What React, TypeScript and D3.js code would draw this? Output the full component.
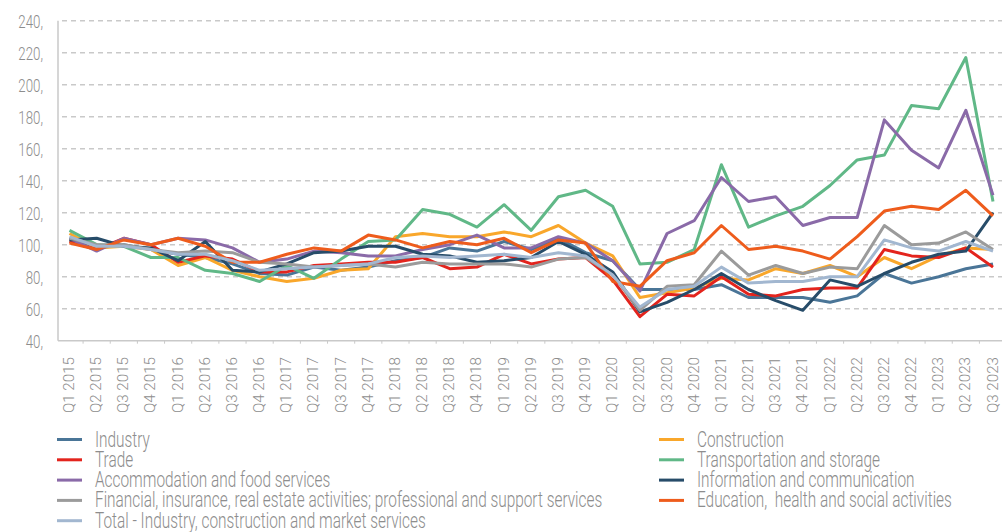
import React from 'react'
import * as d3 from 'd3'

const quarters = [
  'Q1 2015', 'Q2 2015', 'Q3 2015', 'Q4 2015',
  'Q1 2016', 'Q2 2016', 'Q3 2016', 'Q4 2016',
  'Q1 2017', 'Q2 2017', 'Q3 2017', 'Q4 2017',
  'Q1 2018', 'Q2 2018', 'Q3 2018', 'Q4 2018',
  'Q1 2019', 'Q2 2019', 'Q3 2019', 'Q4 2019',
  'Q1 2020', 'Q2 2020', 'Q3 2020', 'Q4 2020',
  'Q1 2021', 'Q2 2021', 'Q3 2021', 'Q4 2021',
  'Q1 2022', 'Q2 2022', 'Q3 2022', 'Q4 2022',
  'Q1 2023', 'Q2 2023', 'Q3 2023',
]

const yTicks = [40, 60, 80, 100, 120, 140, 160, 180, 200, 220, 240]

const industry = [103, 98, 100, 97, 94, 92, 88, 82, 81, 86, 84, 86, 90, 92, 98, 96, 102, 97, 104, 95, 90, 72, 72, 72, 75, 67, 67, 67, 64, 68, 82, 76, 80, 85, 88]
const construction = [107, 98, 99, 97, 87, 92, 84, 80, 77, 79, 84, 85, 105, 107, 105, 105, 108, 105, 112, 101, 93, 67, 70, 73, 79, 78, 85, 82, 87, 80, 92, 85, 93, 98, 97]
const trade = [102, 97, 104, 100, 89, 93, 91, 83, 83, 87, 88, 89, 89, 92, 85, 86, 94, 88, 91, 92, 78, 55, 69, 68, 80, 69, 68, 72, 73, 73, 97, 93, 92, 98, 86]
const transport = [109, 100, 99, 92, 92, 84, 82, 77, 87, 79, 91, 102, 103, 122, 119, 111, 125, 109, 130, 134, 124, 88, 89, 97, 150, 111, 118, 124, 137, 153, 156, 187, 185, 217, 127]
const accommodation = [104, 96, 104, 100, 104, 103, 98, 89, 91, 96, 95, 93, 93, 97, 100, 106, 98, 98, 105, 101, 90, 71, 107, 115, 142, 127, 130, 112, 117, 117, 178, 159, 148, 184, 131]
const information = [103, 104, 99, 98, 90, 102, 84, 83, 88, 95, 96, 99, 99, 94, 93, 89, 90, 92, 102, 94, 83, 58, 64, 72, 82, 72, 65, 59, 78, 74, 82, 89, 94, 96, 120]
const financial = [104, 100, 100, 97, 95, 96, 95, 89, 88, 86, 87, 88, 86, 89, 88, 88, 88, 86, 91, 92, 81, 59, 74, 75, 96, 81, 87, 82, 86, 85, 112, 100, 101, 108, 97]
const education = [101, 97, 103, 100, 104, 99, 89, 89, 94, 98, 96, 106, 103, 98, 102, 100, 104, 95, 103, 101, 77, 74, 90, 95, 112, 97, 99, 96, 91, 105, 121, 124, 122, 134, 118]
const total = [105, 99, 99, 97, 94, 94, 90, 84, 85, 86, 87, 88, 92, 93, 92, 93, 94, 92, 95, 93, 81, 61, 72, 74, 86, 76, 77, 77, 80, 80, 103, 98, 96, 102, 96]

const series = [
  { name: 'Industry', values: industry, color: '#4a7597' },
  { name: 'Construction', values: construction, color: '#f9a72b' },
  { name: 'Trade', values: trade, color: '#e3241d' },
  { name: 'Transportation and storage', values: transport, color: '#60b887' },
  { name: 'Accommodation and food services', values: accommodation, color: '#8a6aa8' },
  { name: 'Information and communication', values: information, color: '#274c69' },
  { name: 'Financial, insurance, real estate activities; professional and support services', values: financial, color: '#9b9b9b' },
  { name: 'Education,  health and social activities', values: education, color: '#ee5c1c' },
  { name: 'Total - Industry, construction and market services', values: total, color: '#a2b7d0' },
]

const W = 1002
const H = 532
const plot = { left: 58, right: 1002, top: 20.7, bottom: 340.7 }
const font = 'Roboto, sans-serif'
const textColor = '#8d8d8d'
const squeeze = 0.7

export default function App() {
  const xScale = d3.scalePoint<string>().domain(quarters).range([69.5, 993])
  const yScale = d3.scaleLinear().domain([40, 240]).range([plot.bottom, plot.top])
  const step = xScale.step()

  const line = d3.line<number>()
    .x((d, i) => xScale(quarters[i]) as number)
    .y(d => yScale(d))

  // legend: two columns, filled column by column
  const leftCol = series.filter((s, i) => i % 2 === 0)
  const rightCol = series.filter((s, i) => i % 2 === 1)

  const legendItem = (s, row, x0) => {
    const y = 439.5 + row * 20.3
    return (
      <g key={s.name}>
        <line x1={x0} x2={x0 + 25} y1={y} y2={y} stroke={s.color} strokeWidth={3} />
        <g transform={'translate(' + (x0 + 38) + ',' + (y + 7) + ') scale(' + squeeze + ',1)'}>
          <text fill={textColor} fontSize={22} fontWeight={300} fontFamily={font}
            style={{ whiteSpace: 'pre' }}>
            {s.name}
          </text>
        </g>
      </g>
    )
  }

  return (
    <svg width={W} height={H} style={{ position: 'absolute', left: 0, top: 0, background: '#fff' }}>
      {/* grid */}
      {yTicks.filter(t => t > 40).map(t => (
        <line key={'g' + t} x1={plot.left + 4} x2={plot.right} y1={yScale(t)} y2={yScale(t)}
          stroke='#c9c9c9' strokeWidth={1.5} strokeDasharray='5,4' />
      ))}

      {/* axes */}
      <line x1={plot.left} x2={plot.left} y1={plot.top} y2={plot.bottom} stroke='#c9c9c9' strokeWidth={1.5} />
      <line x1={plot.left} x2={plot.right} y1={plot.bottom} y2={plot.bottom} stroke='#c9c9c9' strokeWidth={1.5} />
      {quarters.map(q => (
        <line key={'t' + q} x1={(xScale(q) as number) + step / 2} x2={(xScale(q) as number) + step / 2}
          y1={plot.bottom} y2={plot.bottom + 3} stroke='#c9c9c9' strokeWidth={1} />
      ))}

      {/* y labels */}
      {yTicks.map(t => (
        <g key={'y' + t} transform={'translate(43,' + (yScale(t) + 7) + ') scale(' + squeeze + ',1)'}>
          <text textAnchor='end' fill={textColor} fontSize={19} fontWeight={300} fontFamily={font}>
            {t + ','}
          </text>
        </g>
      ))}

      {/* x labels */}
      {quarters.map(q => (
        <g key={'x' + q} transform={'translate(' + ((xScale(q) as number) + 4.5) + ',357) rotate(-90) scale(0.98,1)'}>
          <text textAnchor='end' fill={textColor} fontSize={15.5} fontWeight={300} fontFamily={font}>
            {q}
          </text>
        </g>
      ))}

      {/* series */}
      {series.map(s => (
        <path key={s.name} d={line(s.values) as string} fill='none' stroke={s.color}
          strokeWidth={3} strokeLinejoin='round' />
      ))}

      {/* legend */}
      {leftCol.map((s, i) => legendItem(s, i, 57))}
      {rightCol.map((s, i) => legendItem(s, i, 659))}
    </svg>
  )
}
